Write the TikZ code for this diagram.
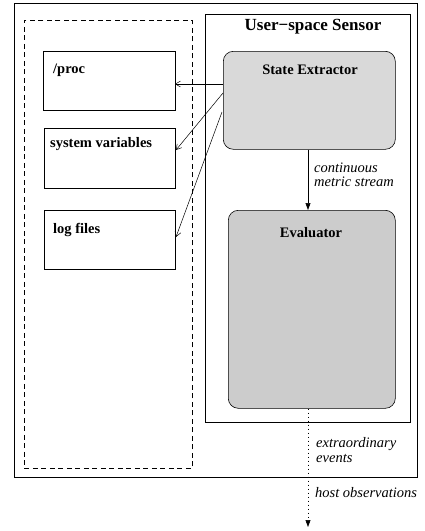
\documentclass[tikz,border=0pt]{standalone}
\usepackage{fontspec}
\setmainfont{Liberation Serif}
\usetikzlibrary{arrows.meta,positioning}
\begin{document}
\begin{tikzpicture}[x=1pt,y=-1pt,
  frame/.style={draw,line width=1pt},
  thinbox/.style={draw,line width=0.6pt},
  procbox/.style={draw,line width=1.2pt},
  compbox/.style={draw,line width=0.6pt,rounded corners=10pt},
  boxlabel/.style={font=\bfseries\fontsize{14.5}{16}\selectfont,anchor=north west,inner sep=0pt},
  clabel/.style={font=\bfseries\fontsize{14.5}{16}\selectfont,anchor=north,inner sep=0pt},
  elabel/.style={font=\itshape\fontsize{14.5}{14.5}\selectfont,align=left,anchor=west,inner sep=0pt},
  openarrow/.style={-{Straight Barb[length=5pt,width=6pt]},line width=0.5pt},
  fillarrow/.style={-{Triangle[length=7pt,width=5pt]},line width=0.6pt},
  dotline/.style={dash pattern=on 1.5pt off 2.5pt}
]
\useasboundingbox (0,0) rectangle (424,531);
% outer frame
\node[frame,minimum width=403pt,minimum height=474pt,anchor=north west,inner sep=0pt] (outer) at (14,3) {};
% dashed region
\node[draw,dash pattern=on 5pt off 3.5pt,line width=0.6pt,minimum width=168pt,minimum height=448pt,anchor=north west,inner sep=0pt] (res) at (24,20) {};
% sensor box
\node[thinbox,minimum width=205pt,minimum height=408pt,anchor=north west,inner sep=0pt] (sensor) at (205,14) {};
\node[font=\bfseries\fontsize{17}{19}\selectfont,inner sep=0pt] (title) at (313,27) {User\textminus space Sensor};
% state extractor
\node[compbox,fill=black!15,minimum width=172pt,minimum height=98pt,anchor=north west,inner sep=0pt] (se) at (223,51) {};
\node[clabel] (selab) at (310,65) {State Extractor};
% evaluator
\node[compbox,fill=black!20,minimum width=167pt,minimum height=198pt,anchor=north west,inner sep=0pt] (ev) at (228,210) {};
\node[clabel] (evlab) at (311,227) {Evaluator};
% resources
\node[procbox,minimum width=132pt,minimum height=59pt,anchor=north west,inner sep=0pt] (proc) at (43,51) {};
\node[boxlabel] (proclab) at (53,64) {/proc};
\node[thinbox,minimum width=131pt,minimum height=60pt,anchor=north west,inner sep=0pt] (sysv) at (44,128) {};
\node[boxlabel] (sysvlab) at (50,137) {system variables};
\node[thinbox,minimum width=131pt,minimum height=59pt,anchor=north west,inner sep=0pt] (logf) at (44,210) {};
\node[boxlabel] (logflab) at (53,223) {log files};
% arrows to resources
\coordinate (s1) at (223,84);
\coordinate (s2) at (223,93);
\coordinate (s3) at (222,112);
\coordinate (t1) at (175,84);
\coordinate (t2) at (176,150);
\coordinate (t3) at (176,237);
\draw[openarrow] (s1) -- (t1);
\draw[openarrow] (s2) -- (t2);
\draw[openarrow] (s3) -- (t3);
% internal stream
\draw[fillarrow] (se.south -| 308,0) -- (ev.north -| 308,0);
\node[elabel] (cms) at (314,175) {continuous\\metric stream};
% output
\coordinate (outend) at (308,527);
\draw[fillarrow,dotline] (ev.south -| 308,0) -- (outend);
\node[elabel] (ext) at (316,450) {extraordinary\\events};
\node[elabel] (host) at (315,493) {host observations};
\end{tikzpicture}
\end{document}
